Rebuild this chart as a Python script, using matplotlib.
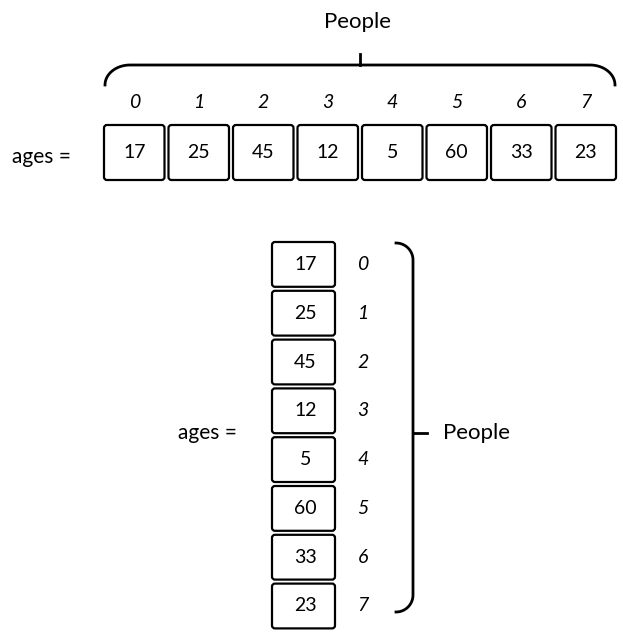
import matplotlib.pyplot as plt
from matplotlib.patches import FancyBboxPatch
import numpy as np

ages = [17, 25, 45, 12, 5, 60, 33, 23]
indices = list(range(len(ages)))
label = "ages ="
group = "People"

fig = plt.figure(figsize=(6.23, 6.34), dpi=100)
ax = fig.add_axes([0, 0, 1, 1])
ax.set_xlim(0, 623)
ax.set_ylim(634, 0)
ax.axis('off')
font = 'Lato'

# horizontal array
x0, w, y0, h = 102, 64.5, 125, 55
for i, a in zip(indices, ages):
    ax.add_patch(FancyBboxPatch((x0 + i * w + 2, y0), w - 4, h,
                                boxstyle="round,pad=0,rounding_size=3",
                                fc='white', ec='black', lw=1.6))
    ax.text(x0 + i * w + w / 2, y0 + h / 2, str(a), ha='center', va='center',
            fontsize=14, family=font)
    ax.text(x0 + i * w + w / 2, 103, str(i), ha='center', va='center',
            fontsize=14, style='italic', family=font)
ax.text(12, 157, label, ha='left', va='center', fontsize=15, family=font)

# top brace
t = np.linspace(0, np.pi / 2, 20)
bx = np.concatenate([105 + 25 * (1 - np.cos(t)), 615 - 25 * (1 - np.cos(t[::-1]))])
by = np.concatenate([85 - 20 * np.sin(t), 85 - 20 * np.sin(t[::-1])])
ax.plot(bx, by, color='black', lw=2)
ax.plot([360, 360], [65, 54], color='black', lw=2)
ax.text(357, 22, group, ha='center', va='center', fontsize=16, family=font)

# vertical array
vx, vw, vy0, vh = 272, 63, 240, 48.8
for i, a in zip(indices, ages):
    ax.add_patch(FancyBboxPatch((vx, vy0 + i * vh + 2), vw, vh - 4,
                                boxstyle="round,pad=0,rounding_size=3",
                                fc='white', ec='black', lw=1.6))
    ax.text(vx + vw / 2 + 2, vy0 + i * vh + vh / 2, str(a), ha='center', va='center',
            fontsize=14, family=font)
    ax.text(363, vy0 + i * vh + vh / 2, str(i), ha='center', va='center',
            fontsize=14, style='italic', family=font)
ax.text(178, 433, label, ha='left', va='center', fontsize=15, family=font)

# right brace
cx = np.concatenate([396 + 17 * np.sin(t), 396 + 17 * np.sin(t[::-1])])
cy = np.concatenate([243 + 17 * (1 - np.cos(t)), 612 - 17 * (1 - np.cos(t[::-1]))])
ax.plot(cx, cy, color='black', lw=2)
ax.plot([413, 427], [433, 433], color='black', lw=2)
ax.text(443, 433, group, ha='left', va='center', fontsize=16, family=font)

fig.savefig('out.png', dpi=100)
